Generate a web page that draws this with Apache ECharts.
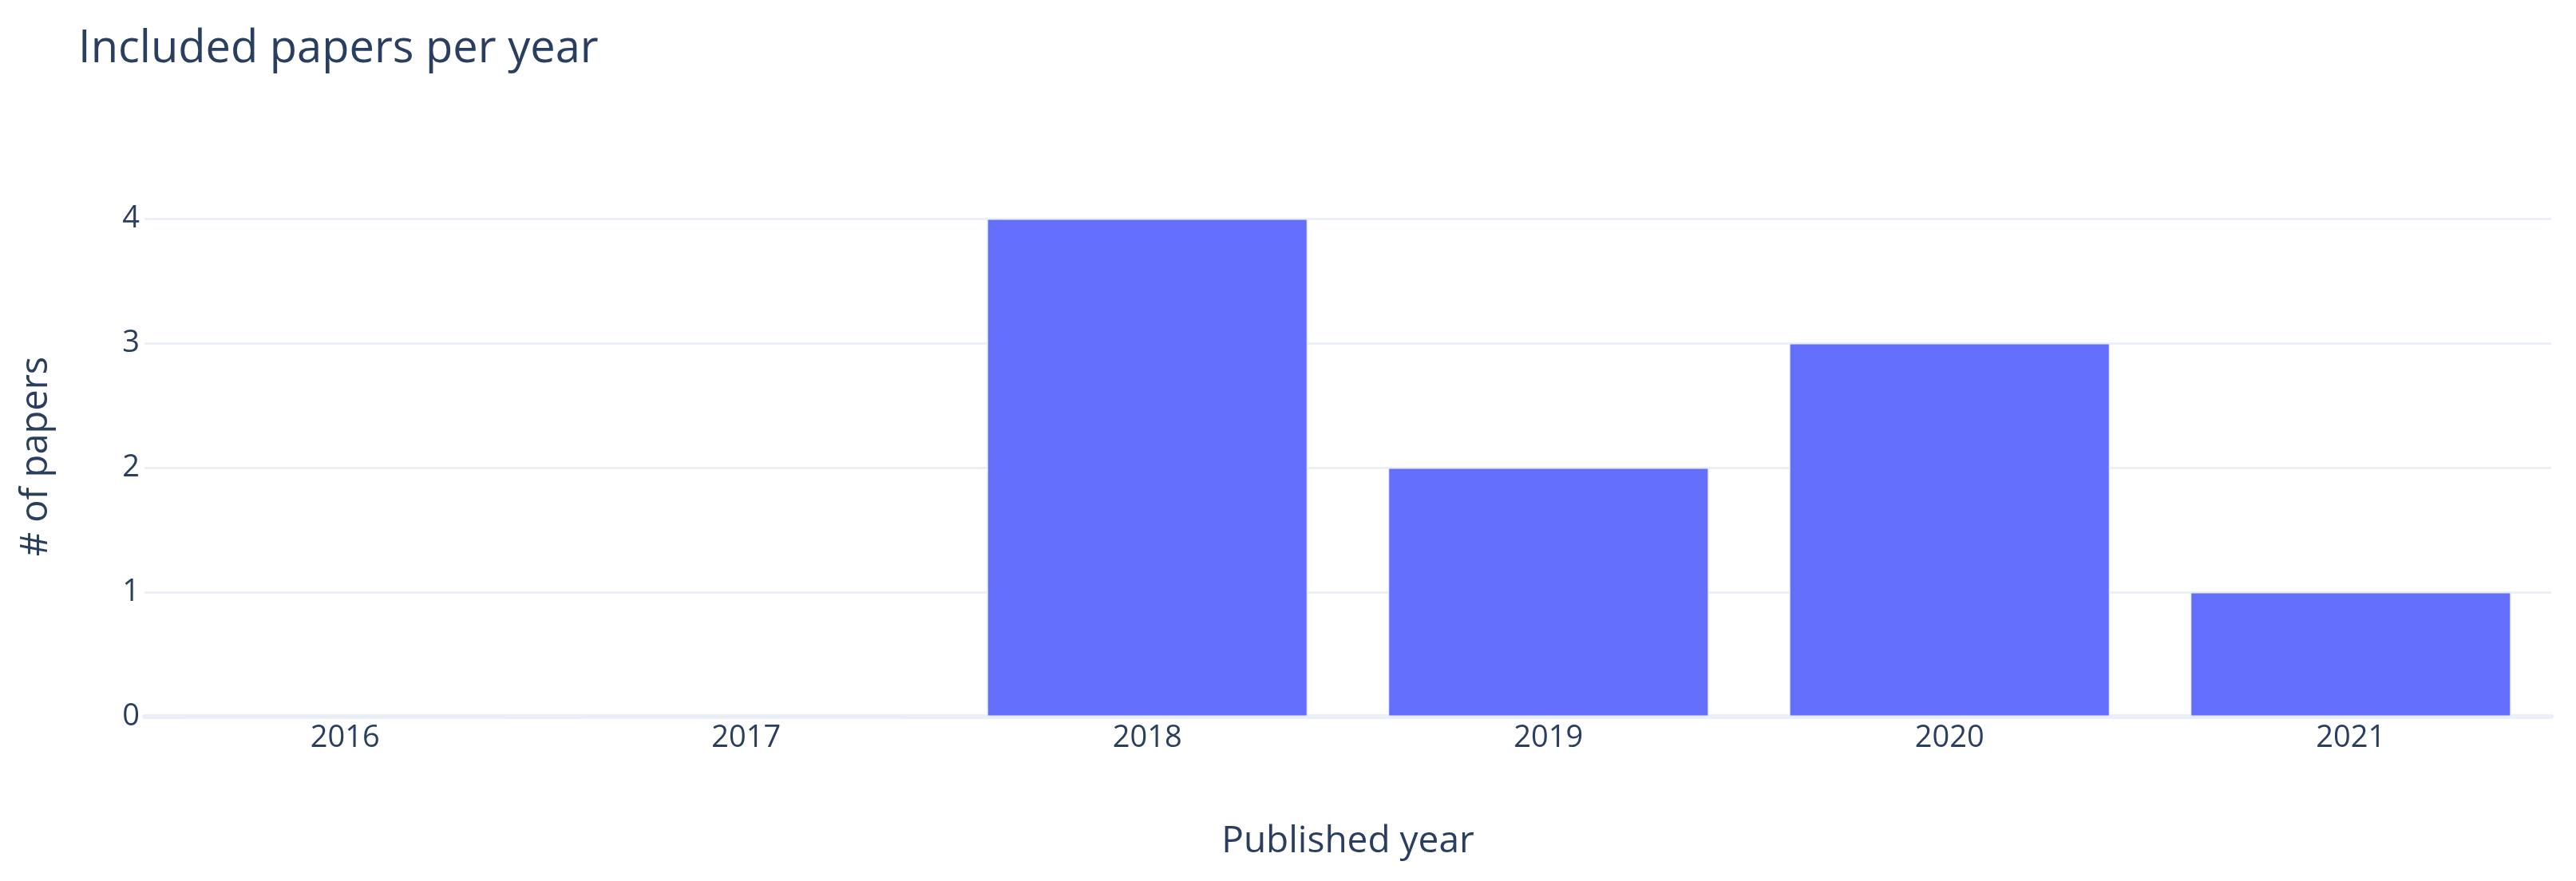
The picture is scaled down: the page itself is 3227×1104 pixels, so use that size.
<!DOCTYPE html>
<html>
<head>
<meta charset="utf-8">
<script src="https://cdn.jsdelivr.net/npm/echarts@6/dist/echarts.min.js"></script>
<style>
  html, body { margin: 0; padding: 0; background: #fff; }
  #main { width: 3227px; height: 1104px; }
</style>
</head>
<body>
<div id="main"></div>
<script>
// data
var years = ["2016", "2017", "2018", "2019", "2020", "2021"];
var papers = [0, 0, 4, 2, 3, 1];

var textColor = "#2a3f5f";
var font = "Open Sans";

var myChart = echarts.init(document.getElementById("main"));
var option = {
  backgroundColor: "#fff",
  animation: false,
  title: {
    text: "Included papers per year",
    left: 93,
    top: 29,
    textStyle: { fontFamily: font, fontSize: 56, fontWeight: "normal", color: textColor }
  },
  grid: { left: 181, right: 31, top: 274, bottom: 206, containLabel: false },
  xAxis: {
    type: "category",
    data: years,
    name: "Published year",
    nameLocation: "middle",
    nameGap: 134,
    nameTextStyle: { fontFamily: font, fontSize: 46, color: textColor },
    axisLine: { show: true, lineStyle: { color: "#EBF0F8", width: 6 } },
    axisTick: { show: false },
    axisLabel: { fontFamily: font, fontSize: 38, color: textColor, margin: 8 },
    splitLine: { show: false }
  },
  yAxis: {
    type: "value",
    min: 0,
    max: 4,
    interval: 1,
    name: "# of papers",
    nameLocation: "middle",
    nameGap: 112,
    nameTextStyle: { fontFamily: font, fontSize: 47, color: textColor, padding: [0, 0, 0, 28] },
    axisLine: { show: false },
    axisTick: { show: false },
    axisLabel: { fontFamily: font, fontSize: 38, color: textColor, margin: 6 },
    splitLine: { lineStyle: { color: "#EBF0F8", width: 3 } }
  },
  series: [
    {
      type: "bar",
      data: papers,
      barCategoryGap: "20%",
      itemStyle: { color: "#636efa", borderColor: "#E5ECF6", borderWidth: 1.5 }
    }
  ]
};
myChart.setOption(option);
</script>
</body>
</html>
